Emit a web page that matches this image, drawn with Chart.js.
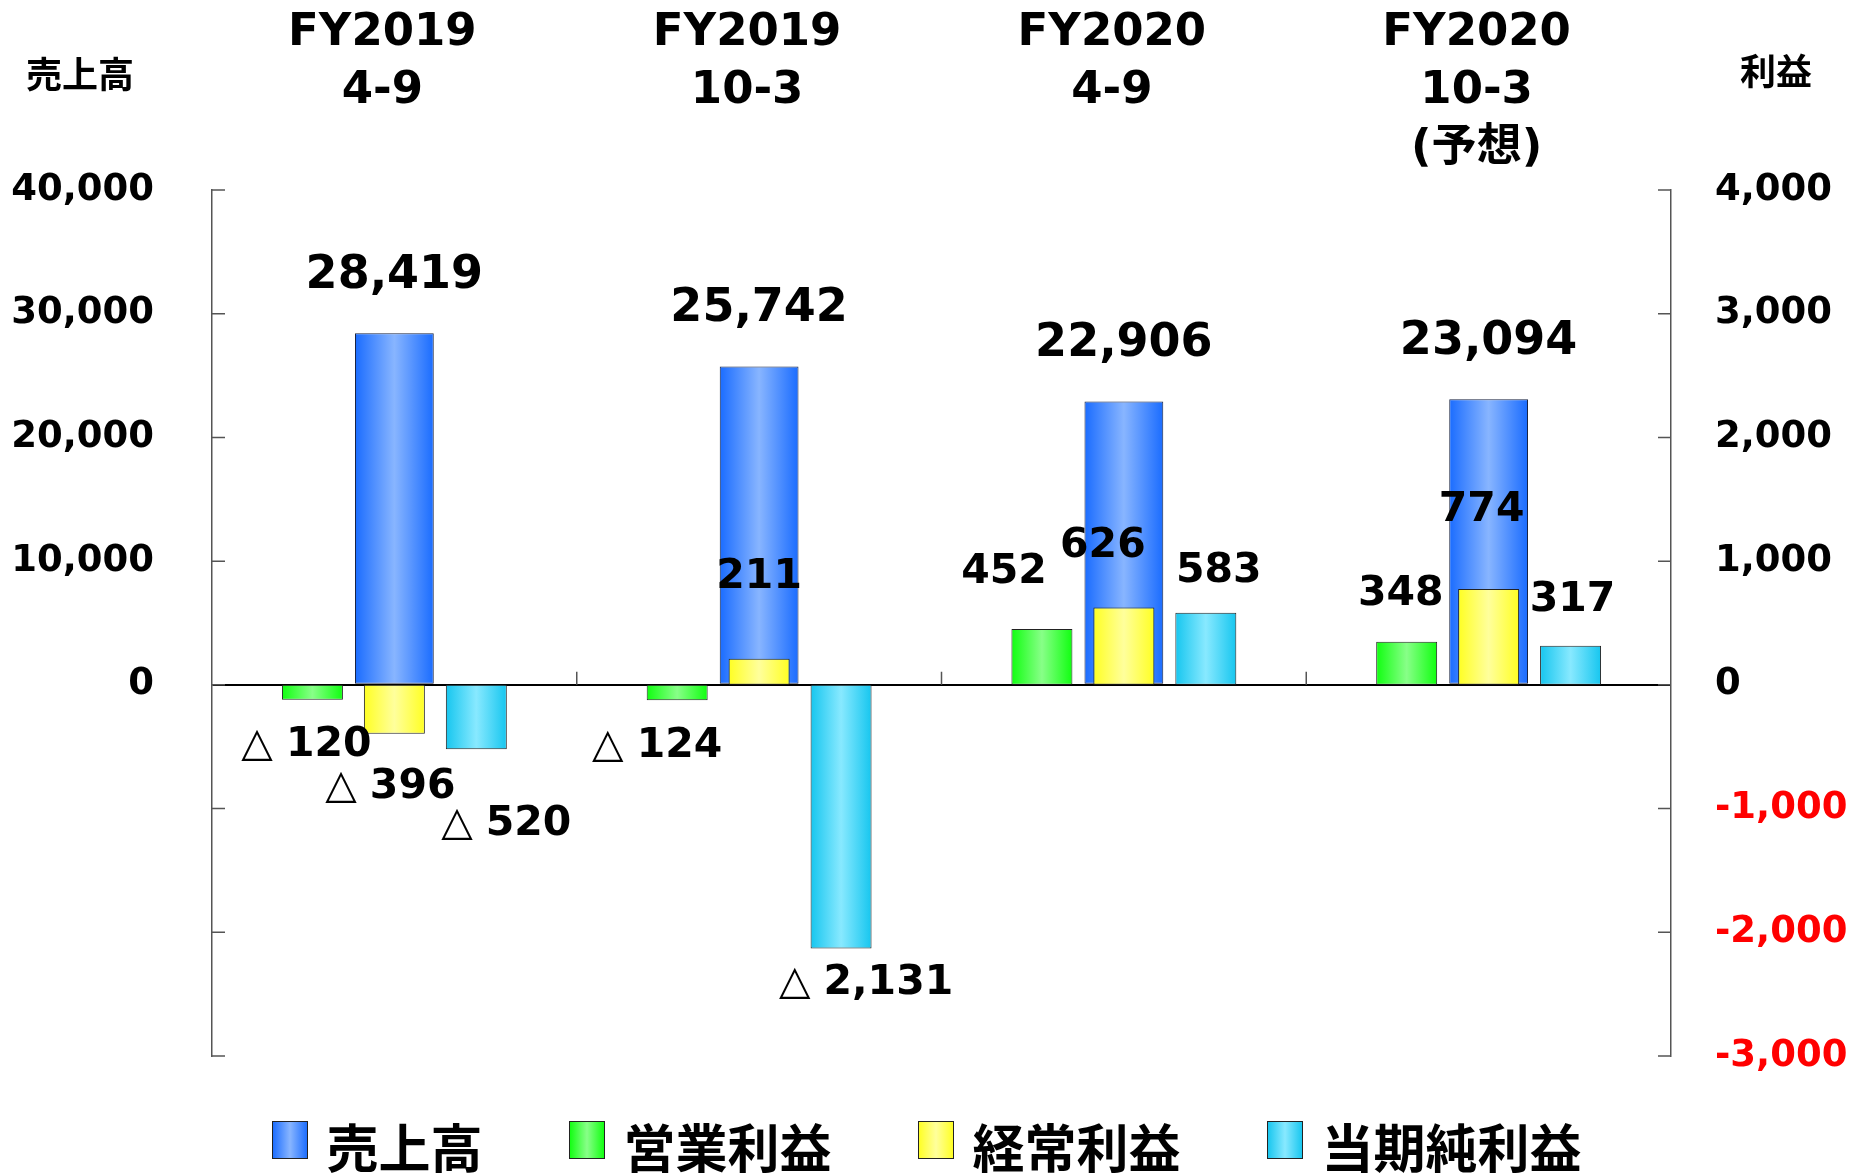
<!DOCTYPE html>
<html lang="ja">
<head>
<meta charset="utf-8">
<title>売上高・利益</title>
<script src="https://cdn.jsdelivr.net/npm/chart.js@4.4.1/dist/chart.umd.min.js"></script>
<style>
  html, body { margin: 0; padding: 0; background: #fff; }
  #wrap { width: 1858px; height: 1175px; position: relative; }
</style>
</head>
<body>
<div id="wrap"><canvas id="resultChart"></canvas></div>
<script>
// Periods (shown along the top)
const periods = [
    ['FY2019', '4-9'],
    ['FY2019', '10-3'],
    ['FY2020', '4-9'],
    ['FY2020', '10-3', '(予想)']
];

// 売上高 -> left axis
const sales = [28419, 25742, 22906, 23094];

// 利益 -> right axis
const operatingProfit = [-120, -124, 452, 348];
const ordinaryProfit = [-396, 211, 626, 774];
const netProfit = [-520, -2131, 583, 317];

const seriesNames = ['売上高', '営業利益', '経常利益', '当期純利益'];

// edge / centre colour of each bar gradient
const barColors = [
    ['#1a6cff', '#88b5ff'],
    ['#10ff10', '#88ff88'],
    ['#ffff22', '#ffff9c'],
    ['#16c6ef', '#88e9ff']
];

// hand-placed label offsets (dx, dy) from the default spot
const labelNudge = [
    null,
    [[-6, -7], [-20, -7], [-38, -10], [-6, 0]],
    [[-4, 0], [0, -34], [-21, -14], [-7, -32]],
    [[30, 22], [25, -18], [13, 6], [2, 2]]
];

const FONT = '"DejaVu Sans", "Noto Sans CJK JP", sans-serif';
const CJK = '"Noto Sans CJK JP", sans-serif';

function fmt(v) {
    return v.toLocaleString('en-US');
}

// Horizontal gradient on every bar, set just before its dataset is painted
const barGradient = {
    id: 'barGradient',
    beforeDatasetDraw(chart, args) {
        const ctx = chart.ctx;
        const [edge, mid] = barColors[args.index];
        args.meta.data.forEach(bar => {
            const left = bar.x - bar.width / 2;
            const g = ctx.createLinearGradient(left, 0, left + bar.width, 0);
            g.addColorStop(0, edge);
            g.addColorStop(0.5, mid);
            g.addColorStop(1, edge);
            bar.options = Object.assign({}, bar.options, { backgroundColor: g });
        });
    }
};

// Value labels
const valueLabels = {
    id: 'valueLabels',
    afterDatasetsDraw(chart) {
        const ctx = chart.ctx;
        ctx.save();
        ctx.fillStyle = '#000';
        ctx.textBaseline = 'middle';
        chart.data.datasets.forEach((ds, di) => {
            const meta = chart.getDatasetMeta(di);
            meta.data.forEach((bar, i) => {
                const v = ds.data[i];
                if (di === 0) {
                    ctx.font = 'bold 46px ' + FONT;
                    ctx.textAlign = 'center';
                    ctx.fillText(fmt(v), bar.x, bar.y - 57);
                    return;
                }
                const [dx, dy] = labelNudge[di][i];
                const cx = bar.x + dx;
                const cy = (v >= 0 ? bar.y - 47 : bar.y + 53) + dy;
                const num = fmt(Math.abs(v));
                ctx.font = 'bold 41px ' + FONT;
                if (v >= 0) {
                    ctx.textAlign = 'center';
                    ctx.fillText(num, cx, cy);
                    return;
                }
                const numW = ctx.measureText(num).width;
                ctx.font = '41px ' + FONT;
                const triW = ctx.measureText('△ ').width;
                const x0 = cx - (triW + numW) / 2;
                ctx.textAlign = 'left';
                ctx.fillText('△ ', x0, cy);
                ctx.font = 'bold 41px ' + FONT;
                ctx.fillText(num, x0 + triW, cy);
            });
        });
        ctx.restore();
    }
};

// Inward tick marks, category dividers, axis captions and legend
const decorations = {
    id: 'decorations',
    afterDraw(chart) {
        const ctx = chart.ctx;
        const area = chart.chartArea;
        const { x, y, y1 } = chart.scales;
        ctx.save();
        ctx.strokeStyle = '#555';
        ctx.lineWidth = 1.5;
        ctx.beginPath();
        y.ticks.forEach(t => {
            const py = y.getPixelForValue(t.value);
            ctx.moveTo(area.left, py);
            ctx.lineTo(area.left + 13, py);
        });
        y1.ticks.forEach(t => {
            const py = y1.getPixelForValue(t.value);
            ctx.moveTo(area.right - 13, py);
            ctx.lineTo(area.right, py);
        });
        const zeroY = y.getPixelForValue(0);
        for (let i = 0; i < periods.length - 1; i++) {
            const px = (x.getPixelForValue(i) + x.getPixelForValue(i + 1)) / 2;
            ctx.moveTo(px, zeroY - 13);
            ctx.lineTo(px, zeroY);
        }
        ctx.stroke();

        // axis captions
        ctx.fillStyle = '#000';
        ctx.textBaseline = 'middle';
        ctx.textAlign = 'center';
        ctx.font = 'bold 36px ' + CJK;
        ctx.fillText('売上高', area.left - 132, 74);
        ctx.fillText('利益', area.right + 105, 71);

        // legend
        ctx.font = 'bold 52px ' + CJK;
        const boxW = 35, boxH = 37, gap = 19, itemGap = 87;
        const widths = seriesNames.map(n => boxW + gap + ctx.measureText(n).width);
        const total = widths.reduce((a, b) => a + b, 0) + itemGap * (widths.length - 1);
        let lx = chart.width / 2 - total / 2 - 2;
        const ly = area.bottom + 84;
        seriesNames.forEach((name, i) => {
            const [edge, mid] = barColors[i];
            const g = ctx.createLinearGradient(lx, 0, lx + boxW, 0);
            g.addColorStop(0, edge);
            g.addColorStop(0.5, mid);
            g.addColorStop(1, edge);
            ctx.fillStyle = g;
            ctx.fillRect(lx, ly - boxH / 2, boxW, boxH);
            ctx.strokeStyle = '#222';
            ctx.lineWidth = 1;
            ctx.strokeRect(lx, ly - boxH / 2, boxW, boxH);
            ctx.fillStyle = '#000';
            ctx.textAlign = 'left';
            ctx.fillText(name, lx + boxW + gap, ly + 8);
            lx += widths[i] + itemGap;
        });
        ctx.restore();
    }
};

const profitBar = {
    yAxisID: 'y1',
    order: 0,
    categoryPercentage: 0.674,
    barPercentage: 0.744,
    borderColor: '#222',
    borderWidth: 1,
    borderSkipped: false
};

const chart = new Chart(document.getElementById('resultChart'), {
    type: 'bar',
    data: {
        labels: periods,
        datasets: [
            {
                label: seriesNames[0],
                data: sales,
                yAxisID: 'y',
                grouped: false,
                order: 1,
                categoryPercentage: 1,
                barPercentage: 0.216,
                backgroundColor: barColors[0][0],
                borderColor: '#1a2440',
                borderWidth: 1,
                borderSkipped: false
            },
            Object.assign({ label: seriesNames[1], data: operatingProfit, backgroundColor: barColors[1][0] }, profitBar),
            Object.assign({ label: seriesNames[2], data: ordinaryProfit, backgroundColor: barColors[2][0] }, profitBar),
            Object.assign({ label: seriesNames[3], data: netProfit, backgroundColor: barColors[3][0] }, profitBar)
        ]
    },
    options: {
        responsive: true,
        maintainAspectRatio: false,
        animation: false,
        layout: { padding: { bottom: 119 } },
        plugins: {
            legend: { display: false },
            tooltip: { enabled: false }
        },
        scales: {
            x: {
                position: 'top',
                grid: { display: false, drawTicks: false },
                border: { display: false },
                ticks: {
                    autoSkip: false,
                    maxRotation: 0,
                    crossAlign: 'far',
                    padding: 12,
                    labelOffset: -12,
                    color: '#000',
                    font: { family: FONT, size: 45, weight: 'bold', lineHeight: 1.29 }
                },
                afterFit: scale => { scale.height = 190; }
            },
            y: {
                position: 'left',
                min: -30000,
                max: 40000,
                grid: {
                    drawTicks: false,
                    color: ctx => ctx.tick && ctx.tick.value === 0 ? '#000' : 'rgba(0,0,0,0)',
                    lineWidth: 2
                },
                border: { color: '#555', width: 1.5 },
                ticks: {
                    stepSize: 10000,
                    padding: 58,
                    color: '#000',
                    font: { family: FONT, size: 37, weight: 'bold' },
                    callback: v => v >= 0 ? fmt(v) : ''
                },
                afterFit: scale => { scale.width = 212; }
            },
            y1: {
                position: 'right',
                min: -3000,
                max: 4000,
                grid: { display: false, drawTicks: false },
                border: { color: '#555', width: 1.5 },
                ticks: {
                    stepSize: 1000,
                    padding: 44,
                    color: ctx => ctx.tick.value < 0 ? '#ff0000' : '#000',
                    font: { family: FONT, size: 37, weight: 'bold' },
                    callback: v => fmt(v)
                },
                afterFit: scale => { scale.width = 187; }
            }
        }
    },
    plugins: [barGradient, valueLabels, decorations]
});
</script>
</body>
</html>
